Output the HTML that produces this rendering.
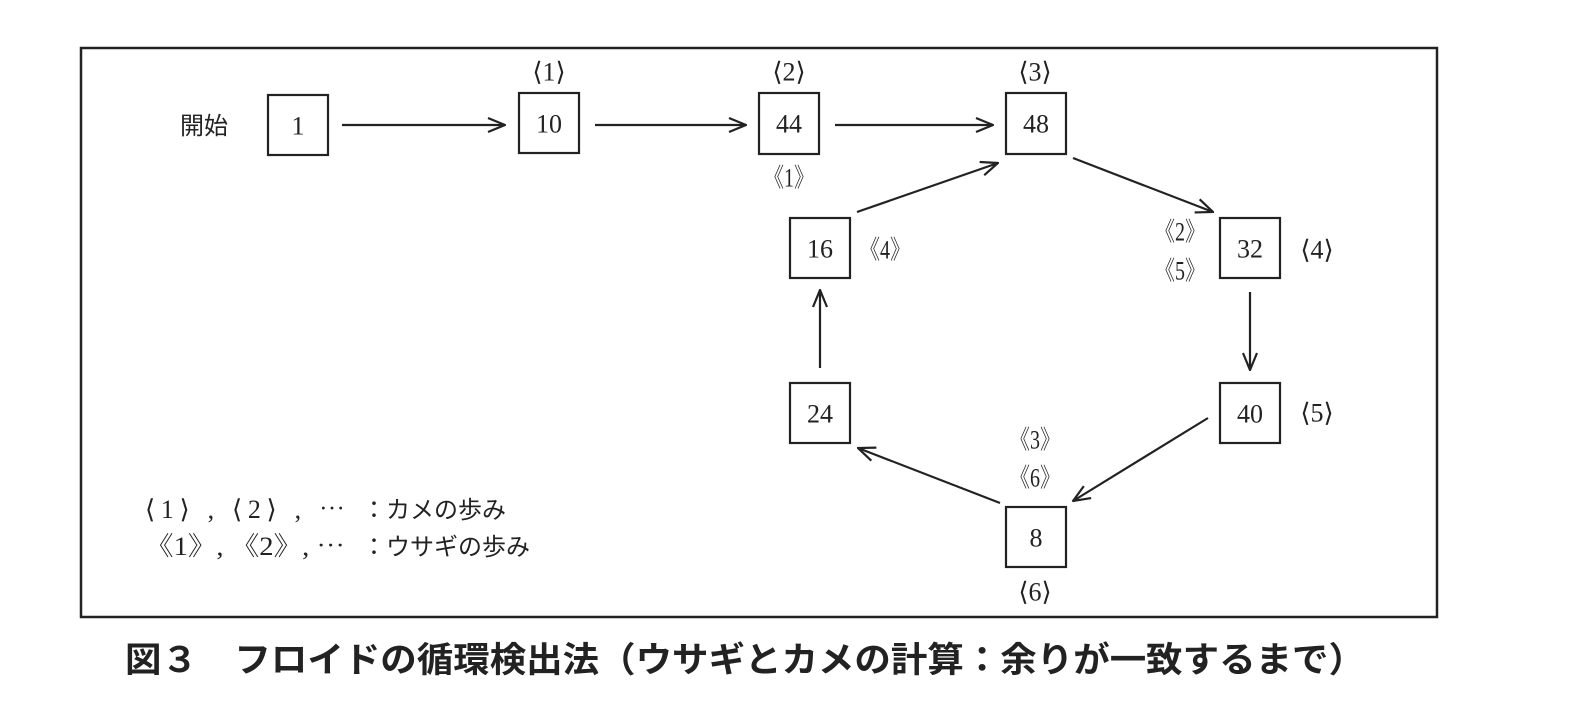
<!DOCTYPE html>
<html><head><meta charset="utf-8"><style>
html,body{margin:0;padding:0;background:#fff;}
svg{display:block;}
.t{font-family:"Liberation Serif","Noto Serif CJK SC",serif;font-size:26px;fill:#222;}
.j{font-family:"Liberation Sans","Noto Sans CJK JP",sans-serif;font-size:24px;fill:#222;}
.c{font-family:"Liberation Sans","Noto Sans CJK JP",sans-serif;font-size:35px;font-weight:bold;fill:#222;}
</style></head><body>
<svg width="1572" height="722" viewBox="0 0 1572 722" xmlns="http://www.w3.org/2000/svg">
<defs><marker id="a" viewBox="0 0 20 20" refX="19" refY="10" markerWidth="20" markerHeight="20" markerUnits="userSpaceOnUse" orient="auto"><path d="M2,3 L19,10 L2,17" fill="none" stroke="#222" stroke-width="2.2"/></marker></defs>
<rect x="81" y="48" width="1356" height="569" fill="none" stroke="#222" stroke-width="2.5"/>
<g fill="#fff" stroke="#222" stroke-width="2.2">
<rect x="268" y="95" width="60" height="60"/>
<rect x="519" y="93" width="60" height="60"/>
<rect x="759" y="93" width="60" height="61"/>
<rect x="1006" y="93" width="60" height="61"/>
<rect x="1220" y="218" width="60" height="60"/>
<rect x="790" y="218" width="60" height="60"/>
<rect x="1220" y="383" width="60" height="60"/>
<rect x="790" y="383" width="60" height="60"/>
<rect x="1006" y="507" width="60" height="60"/>
</g>
<g stroke="#222" stroke-width="2.2" marker-end="url(#a)">
<line x1="342" y1="125" x2="505" y2="125"/>
<line x1="595" y1="125" x2="746" y2="125"/>
<line x1="835" y1="125" x2="993" y2="125"/>
<line x1="1073" y1="158" x2="1213" y2="212"/>
<line x1="857" y1="212" x2="998" y2="163"/>
<line x1="1250" y1="292" x2="1250" y2="370"/>
<line x1="1208" y1="418" x2="1073" y2="501"/>
<line x1="1000" y1="503" x2="858" y2="448"/>
<line x1="820" y1="368" x2="820" y2="290"/>
</g>
<g class="t" text-anchor="middle" dominant-baseline="central">
<text x="298" y="126">1</text>
<text x="549" y="124">10</text>
<text x="789" y="124">44</text>
<text x="1036" y="124">48</text>
<text x="1250" y="249">32</text>
<text x="820" y="249">16</text>
<text x="1250" y="414">40</text>
<text x="820" y="414">24</text>
<text x="1036" y="538">8</text>
<text x="549" y="72">⟨1⟩</text>
<text x="789" y="72">⟨2⟩</text>
<text x="1035" y="72">⟨3⟩</text>
<text x="789" y="178" textLength="50" lengthAdjust="spacingAndGlyphs">《1》</text>
<text x="885" y="250" textLength="50" lengthAdjust="spacingAndGlyphs">《4》</text>
<text x="1180" y="232" textLength="50" lengthAdjust="spacingAndGlyphs">《2》</text>
<text x="1180" y="271" textLength="50" lengthAdjust="spacingAndGlyphs">《5》</text>
<text x="1317" y="250">⟨4⟩</text>
<text x="1317" y="413">⟨5⟩</text>
<text x="1035" y="440" textLength="50" lengthAdjust="spacingAndGlyphs">《3》</text>
<text x="1035" y="478" textLength="50" lengthAdjust="spacingAndGlyphs">《6》</text>
<text x="1035" y="592">⟨6⟩</text>
</g>
<text class="j" x="180" y="134">開始</text>
<text class="t" x="145" y="518" textLength="200" lengthAdjust="spacing">⟨1⟩ , ⟨2⟩ , ⋯</text>
<text class="j" x="362" y="518">：カメの歩み</text>
<text class="t" x="145" y="555" textLength="200" lengthAdjust="spacingAndGlyphs">《1》, 《2》, ⋯</text>
<text class="j" x="362" y="555">：ウサギの歩み</text>
<text class="c" x="125" y="672" textLength="1240" lengthAdjust="spacingAndGlyphs">図３　フロイドの循環検出法（ウサギとカメの計算：余りが一致するまで）</text>
</svg>
</body></html>
